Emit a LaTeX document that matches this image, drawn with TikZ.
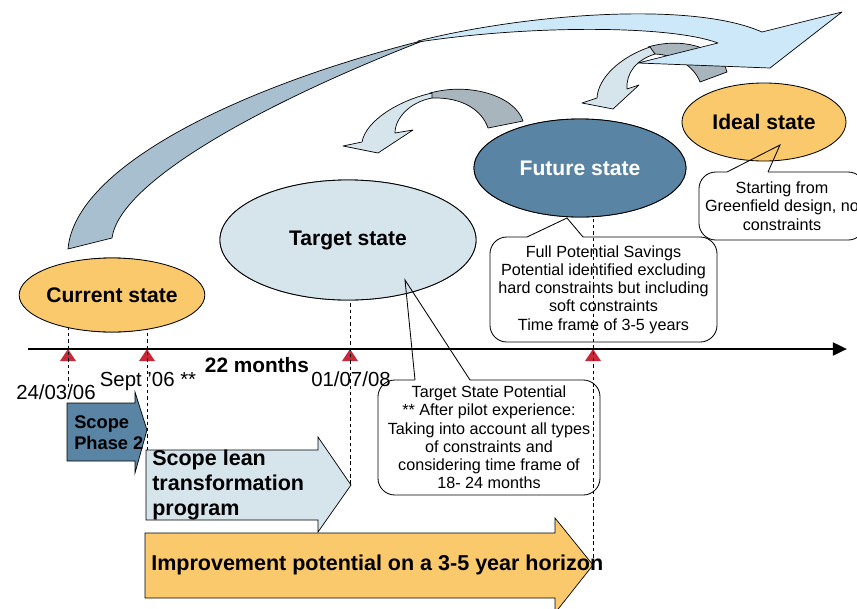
\documentclass[tikz,border=0pt]{standalone}
\usepackage{fontspec}
\setmainfont{Liberation Sans}
\usetikzlibrary{shapes.geometric,arrows.meta}
\definecolor{stateorange}{RGB}{249,201,107}
\definecolor{targetblue}{RGB}{214,228,236}
\definecolor{futureblue}{RGB}{90,132,164}
\definecolor{bandlight}{RGB}{205,233,249}
\definecolor{banddark}{RGB}{167,191,207}
\definecolor{backgray}{RGB}{169,181,189}
\definecolor{markred}{RGB}{200,40,58}
\tikzset{
  statenode/.style={ellipse,draw,line width=0.6pt,inner sep=0pt,font=\fontsize{15}{18}\selectfont\bfseries},
  notebox/.style={draw,fill=white,rounded corners=12pt,align=center,inner sep=2pt,line width=0.6pt,font=\fontsize{11.5}{13}\selectfont},
  ribbon/.style={draw,line width=0.5pt,line join=round},
  blockshape/.style={draw,line width=0.5pt},
  blocktext/.style={anchor=west,align=left,inner sep=0pt,font=\fontsize{15.3}{17.8}\selectfont\bfseries},
  guide/.style={dash pattern=on 2.5pt off 2pt,line width=0.5pt},
  datelbl/.style={anchor=base,inner sep=0pt,font=\fontsize{14.5}{16}\selectfont}
}
\begin{document}
\begin{tikzpicture}[x=0.025cm,y=-0.025cm]
\useasboundingbox (0,0) rectangle (857,608);
% curved arrows between the states
\filldraw[ribbon,fill=backgray] (430,93) .. controls (470,82) and (515,96) .. (523,121) -- (488,128) .. controls (482,110) and (462,97) .. (432,98) -- cycle;
\filldraw[ribbon,fill=targetblue] (432,93) .. controls (400,100) and (366,120) .. (362,142) -- (343,146) -- (378,153) -- (413,130) -- (395,133) .. controls (395,118) and (410,102) .. (432,98) -- cycle;
\filldraw[ribbon,fill=backgray] (648,47) .. controls (685,36) and (722,50) .. (727,72) -- (700,82) .. controls (694,66) and (676,55) .. (655,54) -- cycle;
\filldraw[ribbon,fill=targetblue] (650,47) .. controls (620,57) and (598,78) .. (597,98) -- (582,103) -- (613,109) -- (639,85) -- (627,89) .. controls (626,73) and (636,60) .. (655,54) -- cycle;
\filldraw[ribbon,fill=banddark] (68,249) .. controls (75,165) and (245,85) .. (425,40) .. controls (270,100) and (120,180) .. (112,238) -- cycle;
\filldraw[ribbon,fill=bandlight] (418,41) .. controls (520,15) and (690,0) .. (762,32) -- (842,12) -- (770,68) -- (638,63) -- (718,43) .. controls (670,25) and (530,25) .. (418,42) -- cycle;
% callouts
\node[notebox,minimum width=5.675cm,minimum height=2.625cm] (futurenote) at (603.5,289.5) {Full Potential Savings\\Potential identified excluding\\hard constraints but including\\soft constraints\\Time frame of 3-5 years};
\node[notebox,minimum width=5.55cm,minimum height=2.875cm] (targetnote) at (489,437.5) {Target State Potential\\** After pilot experience:\\Taking into account all types\\of constraints and\\considering time frame of\\18- 24 months};
\node[notebox,minimum width=4.15cm,minimum height=1.7cm] (idealnote) at (782,206) {Starting from\\Greenfield design, no\\constraints};
\coordinate (ft) at (567,218); \coordinate (fa) at (527,237); \coordinate (fb) at (583,237);
\coordinate (tt) at (405,280); \coordinate (ta) at (415,380); \coordinate (tb) at (470,380);
\coordinate (it) at (780,145); \coordinate (ia) at (727,172); \coordinate (ib) at (768,172);
\foreach \pa/\pb in {fa/fb,ta/tb,ia/ib}
  \fill[white] ([yshift=1pt]\pa) rectangle ([yshift=-1.5pt]\pb);
% time line
\foreach \mx/\mn in {68/m1,147/m2,350/m3,593/m4}
  \fill[markred] (\mx,349) coordinate (\mn) -- ++(8,12) -- ++(-16,0) -- cycle;
\draw[line width=2pt,-{Triangle[length=10pt,width=9pt]}] (28,349) coordinate (tl0) -- (847,349) coordinate (tl1);
% block arrows
\filldraw[blockshape,fill=futureblue] (67,403) -- (135,403) -- (135,392) -- (147,430) -- (135,473) -- (135,461) -- (67,461) -- cycle;
\filldraw[blockshape,fill=targetblue] (146,450) -- (318,450) -- (318,437) -- (351,485) -- (318,532) -- (318,520) -- (146,520) -- cycle;
\filldraw[blockshape,fill=stateorange] (145,533) -- (555,533) -- (555,518) -- (593,565) -- (555,613) -- (555,598) -- (145,598) -- cycle;
\node[blocktext,font=\fontsize{13}{15}\selectfont\bfseries] (phasetwo) at (74,433) {Scope\\Phase 2};
\node[blocktext] (leanprog) at (152,485) {Scope lean\\transformation\\program};
\node[blocktext] (improve) at (151,565) {Improvement potential on a 3-5 year horizon};
% guides
\coordinate (g1) at (68,388); \coordinate (g2) at (147,450);
\coordinate (g3) at (350,485); \coordinate (g4) at (593,562);
\node[statenode,minimum width=4.1cm,minimum height=1.85cm] (current) at (112,295) {};
\node[statenode,minimum width=6.4cm,minimum height=3cm] (target) at (348,240) {};
\node[statenode,minimum width=5.3cm,minimum height=2.45cm] (future) at (580,168) {};
\draw[guide] (current.center -| g1) -- (g1);
\draw[guide] (current.center -| g2) -- (g2);
\draw[guide] (target.center -| g3) -- (g3);
\draw[guide] (future.center -| g4) -- (g4);
% states
\node[statenode,fill=stateorange,minimum width=4.1cm,minimum height=1.85cm] at (current) {Current state};
\node[statenode,fill=targetblue,minimum width=6.4cm,minimum height=3cm] at (target) {Target state};
\node[statenode,fill=futureblue,text=white,minimum width=5.3cm,minimum height=2.45cm] at (future) {Future state};
\node[statenode,fill=stateorange,minimum width=4.1cm,minimum height=1.95cm] (ideal) at (764,122) {Ideal state};
\draw[line width=0.6pt] (fa) -- (ft) -- (fb);
\draw[line width=0.6pt] (ta) -- (tt) -- (tb);
\draw[line width=0.6pt] (ia) -- (it) -- (ib);
% dates
\node[datelbl] (start) at (56,399) {24/03/06};
\node[datelbl] (sept) at (148,386) {Sept '06 **};
\node[datelbl] (july) at (351,386) {01/07/08};
\node[datelbl,font=\fontsize{14.8}{16}\selectfont\bfseries] (span) at (257,372) {22 months};
\end{tikzpicture}
\end{document}
